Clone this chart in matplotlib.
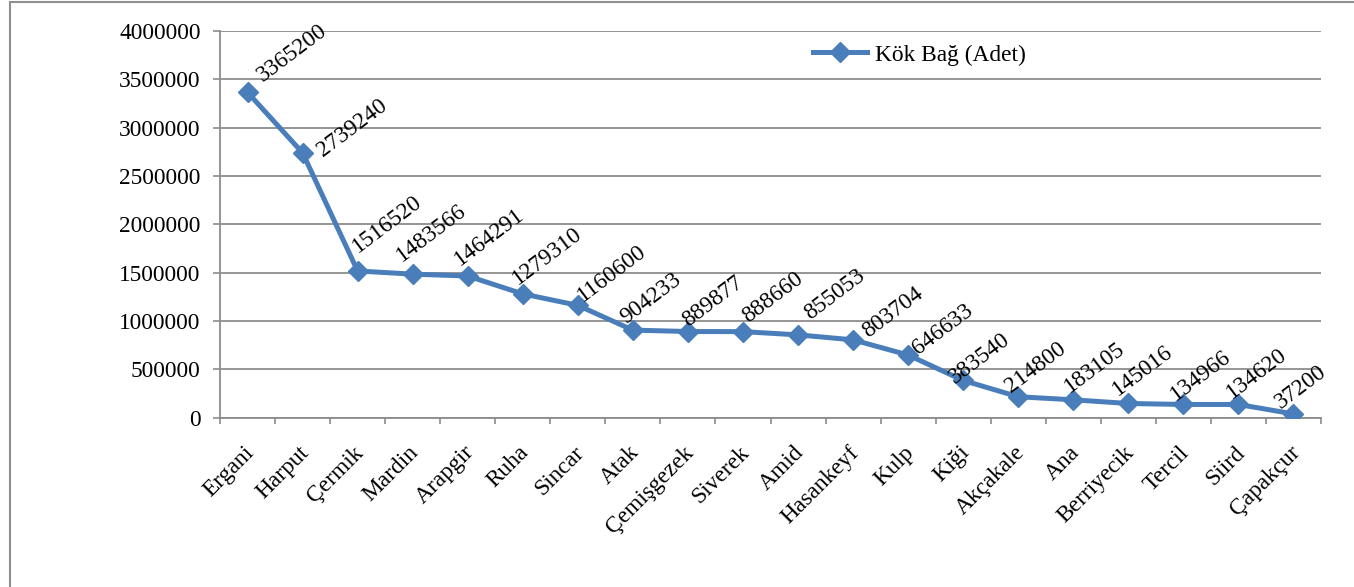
import matplotlib
matplotlib.use("Agg")
import matplotlib.pyplot as plt
from matplotlib.patches import Rectangle
from matplotlib.transforms import offset_copy
import numpy as np

categories = ["Ergani", "Harput", "Çermik", "Mardin", "Arapgir", "Ruha", "Sincar",
              "Atak", "Çemişgezek", "Siverek", "Amid", "Hasankeyf", "Kulp", "Kiği",
              "Akçakale", "Ana", "Berriyecik", "Tercil", "Siird", "Çapakçur"]
values = [3365200, 2739240, 1516520, 1483566, 1464291, 1279310, 1160600,
          904233, 889877, 888660, 855053, 803704, 646633, 383540,
          214800, 183105, 145016, 134966, 134620, 37200]
series_name = "Kök Bağ (Adet)"
y_ticks = [0, 500000, 1000000, 1500000, 2000000, 2500000, 3000000, 3500000, 4000000]

# label offsets in pixels (dx right, dy up) relative to each point
label_offsets = [(15, 10), (20, -4), (0, 18), (-11, 12), (-8, 10), (-5, 9), (5, 3),
                 (-7, 6), (0, 5), (5, 9), (12, 15), (15, 2), (10, 0), (-8, -4),
                 (-7, 4), (-3, 7), (-10, 7), (-7, 3), (-6, 5), (-13, 5)]

plt.rcParams['font.family'] = ['Liberation Serif', 'DejaVu Serif']
FS = 16.8
LINE_COLOR = '#4A7EBB'
GRID_COLOR = '#8C8C8C'

W, H = 1354, 587
fig = plt.figure(figsize=(W / 100, H / 100), dpi=100)
ax = fig.add_axes([220 / W, 1 - 417.5 / H, (1321 - 220) / W, (417.5 - 31) / H])

x = np.arange(len(categories))
line, = ax.plot(x, values, color=LINE_COLOR, lw=3.6, marker='D', markersize=10.5,
                markeredgecolor=LINE_COLOR, markerfacecolor=LINE_COLOR,
                solid_joinstyle='round', label=series_name, zorder=3)

ax.set_xlim(-0.5, len(categories) - 0.5)
ax.set_ylim(0, 4000000)
ax.set_yticks(y_ticks)
ax.set_yticklabels([str(v) for v in y_ticks], fontsize=FS)
ax.yaxis.grid(True, color=GRID_COLOR, lw=1.3)
ax.set_axisbelow(True)

ax.set_xticks(x)
ax.set_xticklabels(categories, fontsize=FS)
ax.set_xticks(np.arange(-0.5, len(categories)), minor=True)
ax.tick_params(axis='x', which='major', length=0, pad=23)
ax.tick_params(axis='x', which='minor', length=4, direction='out', color=GRID_COLOR, width=1.2)
ax.tick_params(axis='y', length=5, direction='out', color=GRID_COLOR, width=1.2, pad=9)
xshift = offset_copy(ax.get_xaxis_transform(), fig=fig, x=3, y=0, units='dots')
for lbl in ax.get_xticklabels():
    lbl.set_rotation(45)
    lbl.set_ha('right')
    lbl.set_va('center')
    lbl.set_rotation_mode('anchor')
    lbl.set_transform(lbl.get_transform() + matplotlib.transforms.ScaledTranslation(3 / 100, 0, fig.dpi_scale_trans))

for s in ['top', 'right']:
    ax.spines[s].set_visible(False)
for s in ['left', 'bottom']:
    ax.spines[s].set_color(GRID_COLOR)
    ax.spines[s].set_linewidth(1.3)

for xi, v, (dx, dy) in zip(x, values, label_offsets):
    tr = offset_copy(ax.transData, fig=fig, x=dx, y=dy, units='dots')
    ax.text(xi, v, str(v), transform=tr, rotation=37, rotation_mode='anchor',
            ha='left', va='baseline', fontsize=FS, color='black', zorder=4)

leg = fig.legend(handles=[line], loc='center left', bbox_to_anchor=(813 / W, 1 - 55 / H),
                 frameon=False, fontsize=FS, handlelength=2.3, handletextpad=0.35,
                 borderpad=0, borderaxespad=0)

fig.add_artist(Rectangle((10 / W, -0.1), 1.2, 1 - 2 / H + 0.1, transform=fig.transFigure,
                         fill=False, edgecolor='#909090', lw=1.5))

fig.savefig("out.png", dpi=100)
